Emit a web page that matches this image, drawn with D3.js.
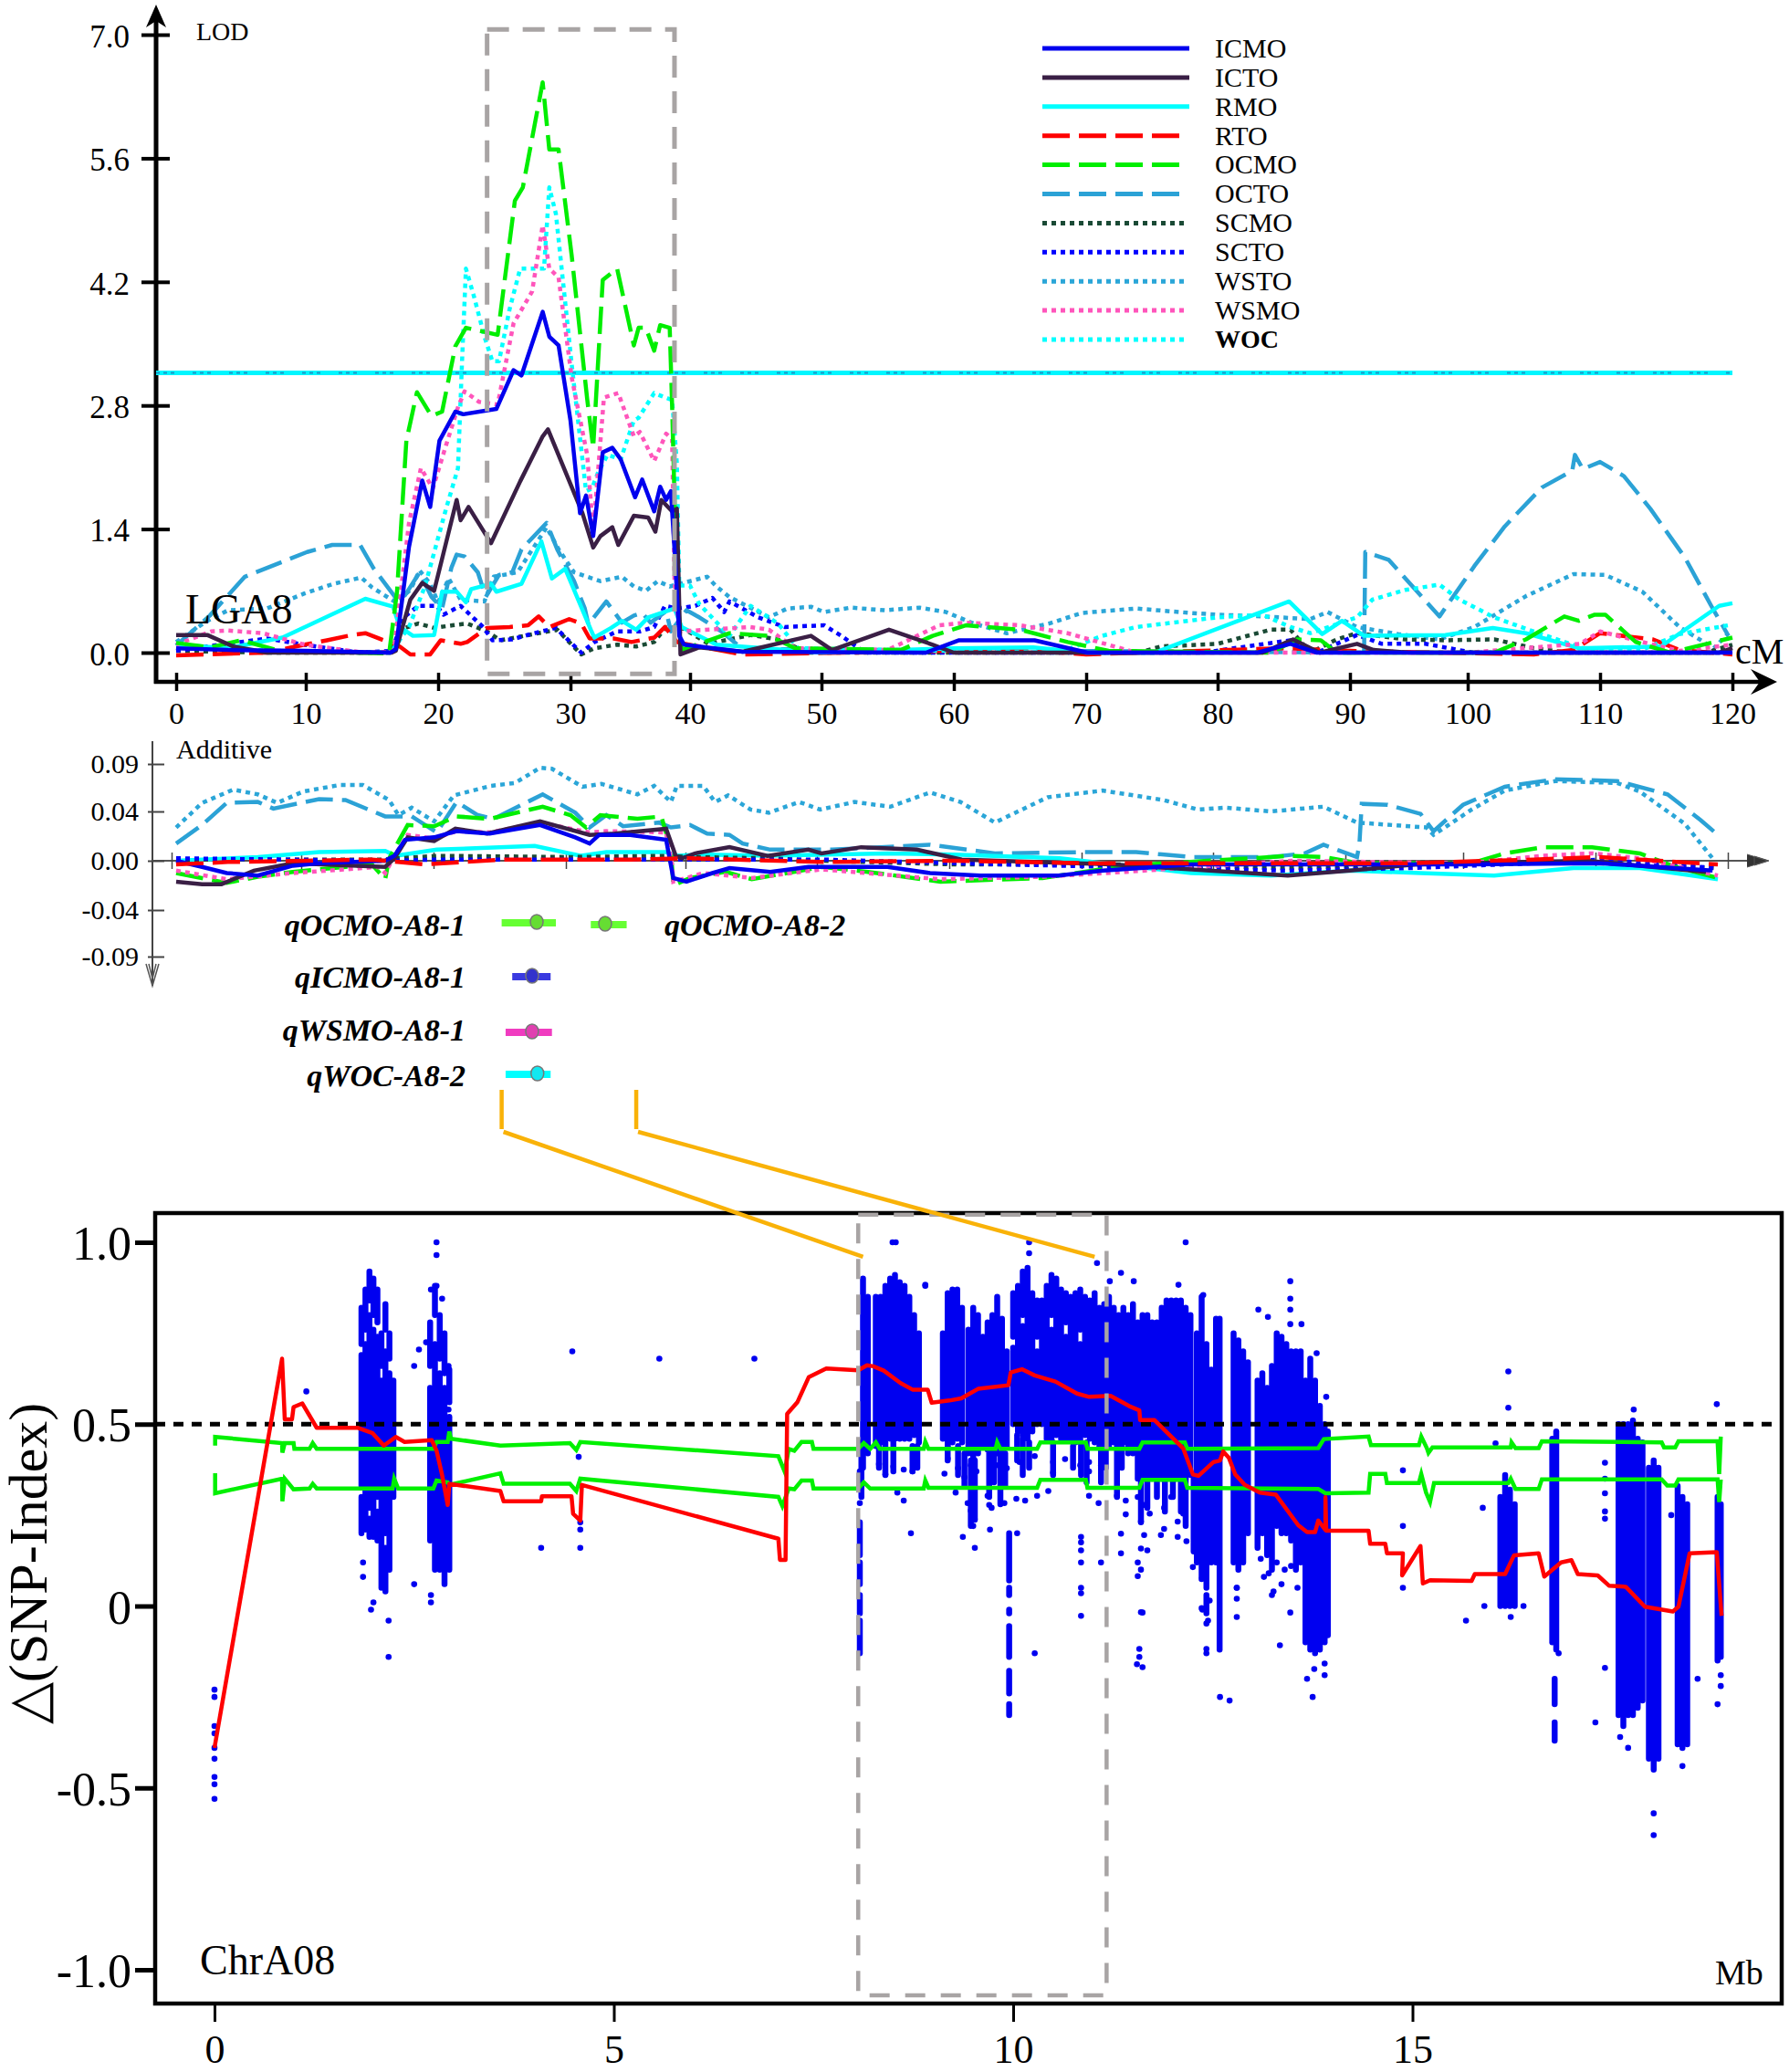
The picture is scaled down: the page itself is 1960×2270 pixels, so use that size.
<!DOCTYPE html>
<html><head><meta charset="utf-8">
<script src="https://d3js.org/d3.v7.min.js"></script>
<style>html,body{margin:0;background:#fff}svg{display:block}text{font-family:"Liberation Serif",serif;fill:#000}</style>
</head><body><svg id="c" width="1960" height="2270"></svg>
<script>
// ---------- LOD panel ----------
const cmTicks=[0,10,20,30,40,50,60,70,80,90,100,110,120];
const lodTicks=[0,1.4,2.8,4.2,5.6,7.0];
const lodThreshold=3.17;
const lodICMO=[[0,.05],[4,.03],[10,.02],[16.4,0],[16.8,.04],[17.8,1.2],[18.8,1.95],[19.4,1.65],[20.1,2.4],[21.3,2.73],[21.9,2.7],[24.4,2.76],[25.7,3.2],[26.3,3.14],[27.9,3.86],[28.4,3.58],[29.1,3.48],[30,2.63],[30.8,1.58],[31.3,1.78],[31.9,1.32],[32.7,2.27],[33.5,2.32],[34.2,2.19],[35.4,1.76],[36,1.96],[37,1.6],[37.5,1.88],[38,1.73],[38.4,1.83],[38.7,1.17],[39.1,.19],[39.5,.09],[44,.01],[57.9,0],[60.4,.14],[66.1,.14],[70.1,0],[83,0],[85.5,.1],[87.5,0],[120,0]];
const lodICTO=[[0,.2],[2.4,.2],[4.4,.07],[7,0],[16.5,0],[16.8,.02],[17.9,.6],[18.8,.79],[19.7,.7],[21.4,1.73],[21.7,1.5],[22.3,1.65],[24,1.24],[26.2,1.94],[27.9,2.45],[28.3,2.53],[31,1.58],[31.9,1.19],[32.5,1.32],[33.5,1.42],[34,1.22],[35.3,1.55],[36.5,1.53],[37.1,1.37],[37.6,1.73],[38.5,1.6],[38.9,1.63],[39.2,-.02],[40.7,.06],[44,.01],[49.2,.19],[50.8,.03],[55.1,.26],[58.4,.09],[60,0],[83.4,0],[85.7,.15],[87.7,0],[90.6,.1],[92,.03],[95,0],[119,0],[120,.05]];
const lodRMO=[[0,.09],[4,.05],[8.2,.17],[14.5,.61],[16.6,.52],[17.1,.29],[18.1,.19],[19.7,.2],[20.3,.69],[21.4,.69],[22.1,.57],[22.5,.72],[24,.78],[24.4,.69],[26.3,.78],[27.8,1.26],[28.6,.84],[29.6,.95],[31.7,.26],[32,.17],[33.4,.28],[34.3,.36],[35.5,.26],[36.5,.4],[38.7,.5],[39.3,.29],[42,.09],[50,0],[60,.05],[66,.06],[70,0],[75.2,0],[85.4,.58],[87.9,.21],[89.4,.36],[91.2,.19],[98.1,.2],[101.9,.28],[104.4,.22],[108.4,.05],[114.6,.07],[119,.53],[120,.56]];
const lodRTO=[[0,-.03],[7,0],[9.9,.09],[11.6,.14],[13.5,.2],[14.5,.22],[15.9,.14],[17.1,.07],[17.9,-.02],[19.4,-.02],[20.2,.14],[21.7,.1],[22.2,.12],[23.7,.28],[25.4,.29],[26.8,.31],[27.6,.41],[28.4,.29],[29.9,.38],[30.9,.33],[31.6,.16],[33.6,.16],[35.1,.12],[37,.17],[37.9,.29],[38.9,.12],[39.5,.1],[44,-.02],[60,.02],[66,.02],[70,-.02],[85,.05],[90,.02],[105,-.02],[108,.03],[110,.22],[114,.15],[116,.03],[120,-.02]];
const lodOCMO=[[0,.11],[2.6,.06],[5,.14],[8,.02],[16.3,-.01],[16.9,.7],[17.6,2.4],[18.4,2.95],[19.5,2.68],[20.3,2.73],[21.3,3.47],[22.1,3.68],[24.5,3.6],[25.8,5.12],[26.4,5.27],[27.9,6.46],[28.4,5.7],[29.1,5.7],[30.1,4.5],[31.4,2.87],[31.9,2.32],[32.7,4.22],[33.9,4.35],[35.3,3.48],[35.7,3.68],[36.3,3.68],[37,3.42],[37.5,3.71],[38.3,3.68],[38.5,2.8],[38.9,.7],[39.3,.03],[43,.22],[46,.19],[48,.05],[56,.03],[58.4,.19],[60.9,.31],[65,.26],[68.6,.12],[71.7,.02],[84,0],[86,.15],[87.8,.14],[89,0],[102,0],[104.4,.15],[107.3,.41],[108.4,.36],[109.6,.43],[110.4,.43],[112.7,.12],[115.3,0],[120,.17]];
const lodOCTO=[[0,.08],[2.6,.42],[5.3,.86],[10.1,1.14],[12,1.22],[14.1,1.22],[15.1,.96],[16.9,.6],[17.5,.65],[18.6,.91],[19.5,.63],[20.3,.5],[21,.96],[21.4,1.11],[22,1.09],[23,.91],[23.6,.63],[24.6,.88],[25.6,.91],[26.3,1.17],[28.2,1.47],[29,1.17],[30.3,.81],[31.2,.5],[31.5,.32],[33,.58],[34.3,.34],[35.3,.42],[36,.45],[36.7,.34],[38,.47],[38.4,.24],[39.7,.48],[40.7,.4],[42.4,.24],[44,.04],[91.2,0],[91.3,1.14],[93.3,1.05],[97.6,.41],[100.5,.98],[102.8,1.43],[105.6,1.87],[107.9,2.06],[108.1,2.24],[108.7,2.08],[110,2.16],[111.8,2],[113.8,1.63],[116.4,1.08],[118.4,.53],[119.7,.19]];
const lodSCMO=[[0,.02],[7,0],[16.5,0],[17.1,.26],[18.5,.33],[19.7,.28],[21.1,.31],[22.2,.33],[23.7,.24],[24.7,.14],[25.8,.17],[27.2,.21],[29,.26],[29.9,.12],[30.9,-.02],[32,.05],[33.9,.09],[35.5,.07],[37,.12],[38,.29],[39.5,.27],[41.4,.1],[44.6,.2],[46.7,.15],[49,0],[74,0],[75.7,.07],[80,.1],[84,.26],[85.5,.26],[87,0],[89,.15],[90.6,.22],[94.7,.15],[98,.14],[102,.15],[105,.05],[107.6,0],[118,0],[120,.09]];
const lodSCTO=[[0,.02],[2.4,.07],[7,.16],[9.9,.09],[14,0],[16.5,.02],[17.4,.4],[18.5,.53],[19.9,.53],[20.4,.43],[21.7,.53],[23.4,.29],[24.1,.14],[25.6,.15],[27,.21],[28.9,.28],[30.9,0],[32,.12],[33.9,.24],[35.8,.24],[37,.29],[37.9,.53],[38.9,.5],[40.4,.53],[41.7,.62],[42.6,.46],[43,.58],[45.2,.4],[47.2,.29],[50.2,.31],[51.5,.19],[53.3,0],[78.9,0],[85.5,.14],[87.5,0],[90.6,.2],[92.7,.1],[96.4,.1],[100.4,0],[120,0]];
const lodWSTO=[[0,.12],[2.4,.36],[4,.48],[7,.5],[9.9,.67],[12.1,.78],[14.2,.85],[15,.74],[16.8,.57],[17.9,.71],[18.6,.93],[19.4,.78],[20,.57],[20.8,.84],[21.7,.6],[23.5,.58],[24.2,.86],[26,.91],[28.2,1.42],[29.1,1.17],[30.3,.91],[32.5,.81],[34.3,.86],[35.3,.75],[36.3,.7],[37.3,.81],[38.3,.75],[41.3,.86],[42,.75],[43,.63],[46,.4],[47.4,.5],[49.2,.52],[50.2,.46],[52.2,.51],[54.8,.48],[57.4,.51],[59.4,.46],[61.5,.33],[64,.22],[67.2,.33],[69.7,.45],[73.8,.5],[77.9,.45],[80,.43],[83.4,.41],[87,.38],[88.3,.46],[90.6,.29],[94.1,.21],[97.6,.15],[100.5,.29],[104.4,.64],[108,.89],[110.4,.88],[113.2,.69],[116,.29],[118.6,.05],[119.7,.22]];
const lodWSMO=[[0,.09],[2.7,.24],[4,.25],[6.7,.22],[9.9,.09],[14.4,0],[16.5,.01],[16.7,.09],[17.8,1.47],[18.7,2.09],[19.6,1.86],[20.6,2.35],[21.5,2.78],[22,2.96],[23.1,2.84],[24.5,2.81],[25.7,3.73],[27.1,4.09],[27.9,4.84],[28.4,4.35],[29.1,4.25],[30.1,3.12],[31.4,2.24],[31.9,1.37],[32.8,2.89],[34,2.94],[35.3,2.45],[35.8,2.5],[37,2.17],[38,2.48],[38.5,2.42],[38.7,.81],[39.1,.24],[44.6,.29],[46,.26],[48,.05],[55,.03],[58.9,.31],[60.9,.34],[65,.31],[68.6,.22],[73.8,0],[100,0],[108.5,.1],[110,.24],[113.2,.12],[116,.02],[120,.09]];
const lodWOC=[[0,.06],[8,.02],[16.5,0],[16.7,.06],[17.8,.29],[19,.75],[20.6,1.63],[21.5,2.09],[21.8,3.27],[22.1,4.35],[22.7,4.04],[23.5,3.58],[24.1,3.3],[24.6,3.3],[25.4,3.89],[26.2,4.35],[28,4.35],[28.4,5.27],[28.9,4.97],[30.1,3.27],[31.3,1.83],[31.8,1.86],[32.3,2.04],[33.1,2.24],[34.2,2.19],[35.3,2.63],[35.7,2.66],[37,2.94],[38.5,2.86],[38.9,2.14],[39.1,.76],[40,.76],[40.7,.55],[43,.19],[44.6,.53],[46.7,.33],[48.2,.05],[68,0],[71.2,.19],[73.8,.29],[80,.4],[83.4,.43],[85.5,.29],[87,.22],[90.6,.4],[91.9,.6],[94.7,.71],[97.6,.77],[99.3,.6],[102,.4],[104.6,.26],[108.7,.05],[113,.02],[116,.21],[119.7,.31]];

// ---------- Additive panel ----------
const addTicks=[-.09,-.04,0,.04,.09];
const addICMO=[[0,0],[2,-.005],[3.9,-.01],[6.3,-.012],[9,-.004],[11,-.002],[16,0],[16.7,.004],[17.5,.017],[19.7,.019],[21.4,.024],[23.9,.022],[27.7,.029],[30.4,.019],[31.6,.014],[32.4,.021],[35,.021],[38,.017],[38.6,-.014],[39.7,-.017],[41.7,-.01],[43,-.006],[46.1,-.009],[49,-.005],[55,-.005],[58.2,-.01],[62,-.012],[67.9,-.012],[71.3,-.008],[78,-.003],[100,-.003],[110,-.002],[118.5,-.008]];
const addICTO=[[0,-.017],[2,-.019],[3.5,-.019],[6,-.008],[9,-.002],[16,-.005],[16.7,.002],[17.7,.019],[19.7,.016],[21.3,.026],[23.7,.022],[27.7,.032],[31.6,.021],[33.7,.022],[38,.026],[38.8,.004],[39.3,.002],[40.4,.006],[43,.011],[45.9,.004],[49,.009],[50,.006],[53,.011],[57.2,.009],[60.6,.001],[72,-.003],[85.3,-.012],[90,-.008],[95.6,-.003],[104.5,-.001],[109,0],[118,-.009]];
const addRMO=[[0,0],[6.3,.003],[11,.007],[16,.008],[16.8,.004],[19.9,.009],[27.3,.012],[30.9,.004],[33,.007],[38,.007],[39,.004],[41,.005],[46,.004],[55,.006],[60,.005],[68,.002],[78,-.01],[84,-.012],[90,-.008],[96,-.01],[102,-.012],[108,-.006],[113,-.006],[118.9,-.015]];
const addRTO=[[0,-.003],[4,-.001],[10,0],[15,.001],[19,-.003],[25,.001],[35,.001],[40,.002],[50,-.001],[60,0],[70,-.002],[85,-.002],[95,-.002],[105,.001],[110,.003],[118.9,-.003]];
const addOCMO=[[0,-.01],[3.9,-.018],[6.3,-.013],[9,-.009],[13,-.005],[15,-.003],[16,-.015],[16.3,.002],[17.7,.029],[19.7,.028],[21.4,.036],[23.9,.034],[27.9,.045],[30,.037],[31.3,.027],[32.5,.037],[35.6,.034],[37.6,.036],[38.4,.009],[38.6,-.02],[40,-.014],[42.7,-.009],[44.7,-.015],[50,-.005],[53.5,-.009],[59,-.017],[66.7,-.014],[73,-.004],[85.6,.004],[88,.003],[90.8,-.002],[100.3,-.002],[102.8,.006],[105.7,.011],[109.4,.011],[113,.006],[115.7,-.005],[118.9,-.014]];
const addOCTO=[[0,.014],[2,.029],[3.9,.049],[6.3,.05],[7.5,.043],[11,.053],[13,.052],[16,.036],[18,.036],[19.9,.023],[21.4,.05],[23,.037],[24.2,.034],[27.9,.058],[30.4,.039],[31.6,.027],[33,.037],[34.4,.028],[37.4,.031],[38.4,.027],[40,.029],[41.3,.022],[43,.021],[44,.014],[46.1,.009],[50.8,.009],[58.2,.013],[63.1,.006],[69.6,.007],[73.8,.007],[78,.003],[84,.003],[86.6,.006],[88,.013],[90.6,.003],[90.8,.013],[91,.048],[93.2,.047],[96,.038],[97.1,.024],[99.6,.047],[102.8,.066],[106.6,.074],[111.3,.072],[115.1,.058],[117.6,.033],[118.9,.021]];
const addSCMO=[[0,.001],[16,.001],[17,.002],[20,.004],[30,.003],[38,.004],[40,.003],[46,.002],[50,0],[60,-.003],[75,-.003],[85,-.006],[100,-.002],[110,-.002],[118.9,-.006]];
const addSCTO=[[0,.002],[16,0],[20,.001],[30,.001],[38,.001],[40,.001],[50,.001],[60,-.002],[72,-.005],[85,-.008],[95,-.006],[105,-.002],[110,.001],[118.9,-.006]];
const addWSTO=[[0,.027],[2,.049],[4.4,.063],[6.3,.058],[7.8,.049],[9.8,.061],[12.6,.068],[14.3,.068],[16.3,.052],[17,.037],[18,.044],[19.7,.032],[21.2,.057],[24,.067],[25.8,.07],[27.7,.086],[28.6,.085],[31,.066],[32.6,.069],[35.6,.058],[37,.067],[38.4,.05],[38.9,.067],[41,.067],[41.9,.05],[42.9,.057],[44.6,.042],[46,.039],[48.3,.05],[49.9,.042],[52.5,.05],[55.2,.045],[58.2,.06],[60.5,.05],[63.1,.031],[67.1,.055],[71.25,.062],[75.9,.052],[78.5,.042],[80.6,.044],[84,.04],[88,.045],[90.6,.031],[96.5,.027],[97.1,.021],[100.3,.042],[102.8,.062],[106.6,.072],[111.3,.07],[113,.061],[116.4,.03],[118.5,.002]];
const addWSMO=[[0,-.008],[3.9,-.015],[9,-.01],[13,-.007],[15.5,-.005],[16,-.01],[16.7,.004],[17.7,.021],[19.7,.018],[21.4,.024],[23.9,.023],[27.7,.031],[31.6,.023],[33,.024],[38,.023],[38.5,-.003],[38.6,-.017],[41,-.01],[44.7,-.014],[50,-.007],[59,-.015],[66.7,-.013],[73,-.009],[85.6,0],[100,-.002],[105.7,.004],[109.4,.006],[113,.002],[118.9,-.012]];

// ---------- QTL intervals in cM ----------
const qtlNames=["qOCMO-A8-1","qOCMO-A8-2","qICMO-A8-1","qWSMO-A8-1","qWOC-A8-2"];
const qtlFrom=[24.8,31.7,25.6,25.1,25.1];
const qtlTo=[28.9,34.7,28.5,28.6,28.5];
const qtlPeak=[27.45,32.9,27.1,27.1,27.5];
const qtlColors=["#66ff33","#66ff33","#3a3ae0","#f03cc0","#00ffff"];

// ---------- SNP-index panel ----------
const mbTicks=[0,5,10,15];
const snpTicks=[1,.5,0,-.5,-1];
const snpRed=[[0,-.39],[.846,.68],[.88,.513],[.97,.513],[.99,.547],[1.1,.557],[1.28,.49],[1.79,.49],[1.98,.475],[2.12,.441],[2.27,.465],[2.38,.451],[2.72,.456],[2.78,.427],[2.85,.36],[2.92,.278],[2.94,.336],[3.58,.316],[3.62,.288],[4.09,.288],[4.1,.302],[4.47,.302],[4.49,.254],[4.58,.235],[4.6,.333],[7.06,.185],[7.08,.127],[7.15,.127],[7.17,.528],[7.3,.561],[7.44,.629],[7.66,.653],[8.06,.648],[8.17,.662],[8.25,.659],[8.38,.647],[8.59,.613],[8.74,.595],[8.93,.595],[8.98,.559],[9.2,.565],[9.35,.571],[9.56,.597],[9.94,.607],[9.97,.642],[10.11,.651],[10.27,.634],[10.53,.617],[10.8,.584],[10.95,.575],[11.22,.578],[11.45,.55],[11.58,.538],[11.59,.511],[11.77,.511],[11.9,.483],[12.13,.433],[12.25,.362],[12.32,.358],[12.51,.396],[12.59,.4],[12.63,.425],[12.7,.408],[12.78,.362],[12.9,.333],[13.09,.312],[13.29,.306],[13.57,.222],[13.68,.203],[13.78,.203],[13.82,.235],[13.91,.209],[13.91,.299],[13.92,.207],[14.45,.207],[14.47,.171],[14.66,.171],[14.68,.145],[14.88,.145],[14.87,.084],[15.1,.165],[15.13,.062],[15.22,.071],[15.74,.069],[15.78,.088],[16.16,.088],[16.27,.139],[16.58,.145],[16.65,.081],[16.86,.12],[16.99,.126],[17.07,.088],[17.32,.084],[17.46,.056],[17.67,.053],[17.91,-.002],[18.26,-.015],[18.33,-.002],[18.47,.145],[18.81,.148],[18.87,-.027]];
const snpUpper=[[.008,.441],[.008,.465],[.846,.448],[.85,.422],[.88,.448],[.99,.448],[1,.432],[1.19,.432],[1.23,.448],[1.28,.432],[2.74,.432],[2.78,.451],[2.92,.451],[2.94,.48],[2.96,.46],[3.58,.441],[4.45,.448],[4.53,.429],[4.58,.451],[7.06,.412],[7.14,.369],[7.19,.432],[7.26,.427],[7.35,.451],[7.48,.451],[7.5,.432],[8.06,.432],[8.13,.448],[8.21,.432],[8.28,.45],[8.33,.432],[8.88,.432],[8.9,.452],[8.94,.432],[9.78,.432],[9.8,.45],[9.84,.432],[10.3,.432],[10.34,.45],[10.91,.45],[10.93,.432],[11.58,.432],[11.62,.45],[12.15,.45],[12.18,.432],[13.82,.434],[13.89,.459],[14.45,.466],[14.48,.442],[14.87,.442],[15.08,.442],[15.11,.466],[15.18,.434],[15.2,.421],[15.25,.436],[16.23,.436],[16.24,.45],[16.29,.434],[16.58,.434],[16.62,.453],[18.12,.45],[18.15,.436],[18.29,.436],[18.33,.453],[18.82,.453],[18.84,.363],[18.86,.466]];
const snpLower=[[.008,.365],[.008,.31],[.846,.35],[.85,.288],[.88,.35],[.99,.321],[1.19,.323],[1.23,.336],[1.28,.323],[2.23,.323],[2.25,.35],[2.3,.323],[2.74,.323],[2.78,.345],[2.92,.34],[2.94,.333],[3.58,.365],[3.62,.336],[4.45,.336],[4.53,.316],[4.58,.35],[7.06,.3],[7.11,.275],[7.19,.323],[7.26,.321],[7.35,.345],[7.48,.345],[7.5,.323],[8.06,.323],[8.13,.34],[8.21,.323],[8.88,.323],[8.9,.345],[8.94,.325],[10.3,.325],[10.34,.347],[10.91,.347],[10.93,.325],[11.58,.325],[11.62,.347],[12.15,.347],[12.18,.325],[13.82,.322],[13.91,.31],[14.45,.312],[14.47,.363],[14.66,.363],[14.68,.338],[15.08,.338],[15.11,.363],[15.17,.312],[15.22,.286],[15.27,.338],[16.2,.338],[16.23,.35],[16.29,.322],[16.58,.322],[16.62,.348],[18.12,.348],[18.19,.331],[18.29,.331],[18.33,.348],[18.82,.348],[18.84,.286],[18.86,.348]];
// dense SNP columns read as [Mb, highest delta, lowest delta]
const snpColumns=[[1.84,.82,.72],[1.84,.69,.33],[1.84,.3,.2],[1.89,.87,.76],[1.89,.72,.21],[1.94,.92,.84],[1.94,.8,.27],[1.94,.24,.19],[1.99,.9,.8],[1.99,.76,.19],[2.04,.87,.78],[2.04,.74,.3],[2.04,.26,.18],[2.09,.75,.66],[2.09,.62,.05],[2.14,.83,.76],[2.14,.7,.2],[2.14,.16,.04],[2.19,.75,.68],[2.19,.64,.1],[2.24,.62,.3],
[2.7,.78,.66],[2.7,.6,.18],[2.76,.88,.8],[2.76,.72,.1],[2.82,.8,.68],[2.82,.64,.1],[2.88,.75,.64],[2.88,.6,.06],[2.94,.65,.56],[2.94,.52,.1],
[8.12,.9,.38],[8.18,.85,.42],[8.28,.85,.44],[8.34,.85,.45],[8.4,.88,.46],[8.46,.9,.46],[8.52,.91,.46],[8.58,.89,.46],[8.64,.88,.46],[8.7,.85,.46],[8.76,.8,.47],[8.82,.75,.45],
[9.12,.75,.46],[9.18,.86,.44],[9.24,.87,.45],[9.3,.87,.46],[9.36,.82,.45],[9.44,.76,.42],[9.5,.82,.4],[9.56,.8,.42],[9.62,.74,.44],[9.68,.78,.43],[9.74,.8,.42],[9.8,.85,.42],[9.86,.79,.43],[9.92,.7,.44],
[10,.86,.74],[10,.71,.5],[10.06,.88,.48],[10.12,.92,.8],[10.12,.77,.47],[10.18,.93,.46],[10.24,.86,.48],[10.3,.84,.74],[10.3,.7,.5],[10.36,.84,.5],[10.42,.88,.46],[10.48,.91,.8],[10.48,.76,.46],[10.54,.9,.47],[10.6,.87,.46],[10.66,.86,.78],[10.66,.74,.46],[10.72,.85,.46],[10.78,.86,.45],[10.84,.87,.76],[10.84,.72,.46],[10.9,.85,.47],[10.96,.84,.46],[11.02,.86,.45],
[11.08,.82,.44],[11.14,.83,.45],[11.2,.85,.44],[11.26,.82,.45],[11.32,.8,.45],[11.38,.82,.45],[11.44,.8,.42],[11.5,.83,.42],[11.56,.78,.35],[11.62,.8,.35],[11.68,.8,.35],[11.74,.78,.35],[11.8,.78,.35],[11.86,.82,.35],[11.92,.84,.35],[11.98,.84,.35],[12.04,.84,.35],[12.1,.84,.35],[12.16,.82,.35],[12.22,.8,.36],
[12.3,.75,.12],[12.36,.85,.08],[12.42,.72,.05],[12.42,.03,-.02],[12.48,.65,.12],[12.54,.79,.12],[12.585,.79,-.12],
[12.76,.75,.12],[12.82,.73,.1],[12.88,.7,.12],[12.94,.67,.2],[13.06,.62,.16],[13.12,.64,.2],[13.18,.6,.14],[13.24,.66,.1],[13.3,.75,.22],[13.36,.74,.2],[13.42,.72,.2],[13.48,.7,.18],[13.54,.7,.1],[13.6,.7,.12],
[13.66,.62,-.1],[13.72,.68,-.12],[13.78,.62,-.13],[13.84,.55,-.12],[13.9,.5,-.1],[13.94,.48,-.08],
[16.1,.3,0],[16.16,.36,0],[16.22,.32,0],[16.28,.28,0],[16.75,.46,-.1],[16.8,.48,-.12],[16.78,-.2,-.27],[16.78,-.32,-.37],
[17.58,.5,-.3],[17.64,.5,-.33],[17.7,.5,-.3],[17.76,.51,-.3],[17.82,.46,-.28],[17.88,.45,-.26],[17.96,.38,-.42],[18.02,.4,-.45],[18.08,.38,-.42],[18.32,.33,-.38],[18.38,.3,-.39],[18.44,.28,-.38],[18.82,.3,-.15],[18.86,.28,-.14],
[9.95,.2,.07],[9.95,.05,.03],[9.95,-.01,-.02],[9.95,-.055,-.14],[9.95,-.178,-.24],[9.95,-.27,-.3],[8.08,.23,.14],[8.08,.12,.06],[8.08,.03,-.02],[8.08,-.04,-.13],[8.1,.45,.3],
// thinner clumps below the solid blocks
[8.32,.45,.38],[8.4,.45,.36],[8.5,.45,.37],[8.74,.44,.37],[8.8,.44,.38],[9.18,.44,.4],[9.31,.44,.36],[9.39,.42,.33],[9.47,.4,.22],[9.52,.4,.24],[9.7,.42,.3],[9.76,.42,.34],[9.84,.42,.28],[9.9,.42,.33],[10.05,.47,.4],[10.12,.46,.36],[10.2,.45,.38],[10.5,.45,.36],[10.75,.44,.38],[10.85,.45,.36],[10.92,.45,.34],[11.1,.44,.34],[11.16,.44,.38],[11.3,.44,.3],[11.36,.44,.38],[11.6,.35,.23],[11.68,.35,.27],[11.8,.35,.3],[11.9,.35,.26],[12,.35,.3],[12.1,.35,.26],[12.16,.35,.22],[12.26,.35,.15]];
const snpDotsMb=[0,0,0,0,0,0,0,0,0,1.15,4.48,5.57,6.76,4.56,4.58,4.58,4.58,4.09,2.5,1.96,1.99,2.18,2.18,2.71,2.71,2.78,2.78,2.78,1.86,1.86,2.56,2.5,2.65,2.93,2.93,2.85,2.71,8.49,8.53,8.9,10.2,10.2,8.72,9.37,9.52,9.71,10.05,11.05,12.16,10.85,10.85,10.85,10.85,10.85,10.85,10.85,11.1,11.6,11.58,11.58,11.55,11.62,10.27,12.59,12.71,13.75,13.68,13.77,13.9,13.9,13.34,13.24,13.47,12.8,12.8,12.8,12.42,12.42,12.42,12.37,11.35,11.51,11.21,8.9,12.07,12.38,12.56,13.07,13.19,13.47,13.47,13.47,13.47,13.61,13.8,13.92,16.2,16.2,16.04,15.88,15.9,15.67,16.39,16.23,14.88,14.88,14.88,16.83,17.41,17.41,17.41,17.41,17.41,17.41,17.29,17.77,17.7,17.6,18.57,18.24,18.02,18.02,18.38,18.81,18.86,18.86,18.82,8.08,8.08,8.32,8.4,8.5,8.63,8.74,8.78,8.55,8.63,9.14,9.28,9.18,9.31,9.47,9.39,9.54,9.43,9.47,9.52,9.5,9.68,9.73,9.7,9.89,10.04,10.15,10.3,10.44,9.81,9.92,10.08,10.27,10.5,10.5,10.65,10.84,10.95,10.95,11.1,10.95,11.07,11.3,11.41,11.56,11.64,11.41,11.71,11.6,11.89,11.98,12.11,12.13,12.06,11.35,11.35,11.64,11.89,11.85,12.06,12.17,11.6,11.68,11.56,11.6,11.56,11.62,12.25,12.36,12.46,12.36,12.44,12.8,12.8,13.1,13.14,13.2,13.26,13.3,13.36,13.4,13.48,13.56];
const snpDotsDelta=[-.23,-.25,-.33,-.35,-.39,-.42,-.47,-.49,-.53,.59,.7,.68,.68,.41,.23,.21,.16,.16,.06,-.01,.01,-.04,-.14,.03,.01,1,.965,.88,.08,.12,.705,.66,.725,.66,.54,.845,.87,1,1,.88,1,.97,.2,.19,.16,.21,.2,.943,1,.19,.175,.153,.12,.05,.035,-.027,.12,-.017,-.118,-.14,-.16,-.168,-.13,-.25,-.26,-.25,-.2,-.173,-.19,-.158,-.108,.03,-.018,.05,.02,-.03,-.048,-.118,-.13,-.01,.916,.893,.893,.883,.883,.855,.785,.815,.795,.893,.845,.815,.775,.775,.695,.575,.645,.545,.447,.27,0,-.04,0,-.03,.373,.22,.05,-.13,.394,.35,.31,.26,.24,-.17,-.32,.54,-.39,-.36,-.2,.25,-.57,-.63,-.44,.555,-.19,-.22,-.27,.283,.37,.39,.362,.383,.375,.37,.39,.312,.29,.364,.312,.405,.379,.387,.354,.37,.283,.262,.237,.22,.303,.27,.278,.283,.295,.29,.303,.316,.387,.379,.396,.412,.396,.367,.404,.387,.396,.37,.387,.303,.283,.303,.29,.3,.278,.252,.254,.232,.27,.3,.278,.254,.232,.199,.145,.195,.212,.195,.19,.178,.158,.153,.12,.1,.082,-.018,.107,.074,.015,-.006,-.04,.128,.05,.13,.08,.09,.04,.12,.06,.1,.11,.05];
// highlighted regions and connectors, in axis units
const boxCM=[23.7,38.7], boxLOD=[-.24,7.06];
const boxMb=[8.06,11.17], boxDelta=[-1.07,1.076];
const linkCM=[24.8,35.5], linkMb=[8.12,11.02], linkDelta=.96;

const legendNames=["ICMO","ICTO","RMO","RTO","OCMO","OCTO","SCMO","SCTO","WSTO","WSMO","WOC"];
const lodSeries=[lodWSTO,lodSCMO,lodSCTO,lodOCTO,lodRTO,lodRMO,lodWOC,lodWSMO,lodOCMO,lodICTO,lodICMO];
const lodOrder=["WSTO","SCMO","SCTO","OCTO","RTO","RMO","WOC","WSMO","OCMO","ICTO","ICMO"];
const addSeries=[addWSTO,addOCTO,addRMO,addSCMO,addSCTO,addOCMO,addWSMO,addICTO,addICMO,addRTO];
const addOrder=["WSTO","OCTO","RMO","SCMO","SCTO","OCMO","WSMO","ICTO","ICMO","RTO"];
const color={ICMO:"#0000ee",ICTO:"#3a1f45",RMO:"#00ffff",RTO:"#ff0000",OCMO:"#00ee00",OCTO:"#2ba2d6",SCMO:"#1a4a35",SCTO:"#0000ff",WSTO:"#2ba6d8",WSMO:"#ff55bb",WOC:"#0ff"};
const dash={ICMO:null,ICTO:null,RMO:null,RTO:"30 10",OCMO:"30 10",OCTO:"30 10",SCMO:"5 5",SCTO:"5 5",WSTO:"5 5",WSMO:"5 5",WOC:"5 5"};

const svg=d3.select("#c");
const xCM=d3.scaleLinear().domain(cmTicks).range([193,335,480,625,756,900,1045,1190,1334,1479,1608,1753,1898]);
const yLOD=d3.scaleLinear().domain([0,7]).range([715,38]);
const yAdd=d3.scaleLinear().domain(addTicks).range([1048,997,943,889,837]);
const xMb=d3.scaleLinear().domain([0,15]).range([235,1547.5]);
const yD=d3.scaleLinear().domain([-1,1]).range([2158,1361]);
const serif='"Liberation Serif",serif';
const hy=s=>s.replace("\u2212","-");

function styleAxis(g,w,fs,col){g.select(".domain").remove();g.selectAll("line").attr("stroke",col||"#000").attr("stroke-width",w);
 g.selectAll("text").attr("font-family",serif).attr("font-size",fs).attr("fill","#000");}
function lineOf(x,y){return d3.line().x(d=>x(d[0])).y(d=>y(d[1]));}

// LOD axes
const g=svg.append("g");
g.append("line").attr("x1",171).attr("x2",171).attr("y1",15).attr("y2",749).attr("stroke","#000").attr("stroke-width",5);
g.append("line").attr("x1",169).attr("x2",1935).attr("y1",747).attr("y2",747).attr("stroke","#000").attr("stroke-width",4.5);
g.append("path").attr("d","M171 5L160 30L171 23L182 30Z").attr("fill","#000");
g.append("path").attr("d","M1947 747L1918 733L1928 747L1918 761Z").attr("fill","#000");
const ay=g.append("g").attr("transform","translate(171,0)").call(d3.axisLeft(yLOD).tickValues(lodTicks).tickFormat(d3.format(".1f")).tickSize(0));
styleAxis(ay,4,35);
ay.selectAll("text").attr("x",-29).attr("y",2);
ay.selectAll(".tick").append("line").attr("x1",-16).attr("x2",15).attr("stroke","#000").attr("stroke-width",4);
const ax=g.append("g").attr("transform","translate(0,747)").call(d3.axisBottom(xCM).tickValues(cmTicks).tickFormat(d3.format("d")).tickSize(0));
styleAxis(ax,4,34);
ax.selectAll("text").attr("y",22);
ax.selectAll(".tick").append("line").attr("y1",-10).attr("y2",10).attr("stroke","#000").attr("stroke-width",3.5);

// threshold
g.append("line").attr("x1",xCM(0)-22).attr("x2",xCM(120)).attr("y1",yLOD(lodThreshold)).attr("y2",yLOD(lodThreshold)).attr("stroke","#00f6ff").attr("stroke-width",5);
g.append("line").attr("x1",xCM(0)-22).attr("x2",xCM(120)).attr("y1",yLOD(lodThreshold)).attr("y2",yLOD(lodThreshold)).attr("stroke","#1a96c8").attr("stroke-width",2).attr("stroke-dasharray","4 4 4 4 4 20");

// LOD curves
const lodLine=lineOf(xCM,yLOD);
lodSeries.forEach((s,i)=>{const n=lodOrder[i];
 g.append("path").attr("d",lodLine(s)).attr("fill","none").attr("stroke",color[n]).attr("stroke-width",4.5).attr("stroke-linejoin","round").attr("stroke-dasharray",dash[n]);});

// LOD box
g.append("rect").attr("x",xCM(boxCM[0])).attr("y",yLOD(boxLOD[1])).attr("width",xCM(boxCM[1])-xCM(boxCM[0])).attr("height",yLOD(boxLOD[0])-yLOD(boxLOD[1]))
 .attr("fill","none").attr("stroke","#a8a4a4").attr("stroke-width",5).attr("stroke-dasharray","24 15");

// LOD texts
const T=(x,y,s,fs,o={})=>svg.append("text").attr("x",x).attr("y",y).attr("font-size",fs).attr("font-weight",o.w||"normal").attr("font-style",o.i||"normal").attr("text-anchor",o.a||"start").attr("dominant-baseline","middle").text(s);
T(215,38,"LOD",28);
T(203,672,"LGA8",46);
T(1901,718,"cM",40);
// legend
legendNames.forEach((n,i)=>{const y=53+i*31.9;
 svg.append("line").attr("x1",1142).attr("x2",dash[n]==null?1303:dash[n]=="30 10"?1293:1299).attr("y1",y).attr("y2",y).attr("stroke",color[n]).attr("stroke-width",5).attr("stroke-dasharray",dash[n]);
 T(1331,y+3,n,n=="WOC"?28:30,{w:n=="WOC"?"bold":"normal"});});

// Additive axes
const ga=svg.append("g");
ga.append("line").attr("x1",167).attr("x2",167).attr("y1",812).attr("y2",1080).attr("stroke","#444").attr("stroke-width",2);
ga.append("path").attr("d","M160 1056L167 1080L174 1056M163 1056L167 1072L171 1056").attr("fill","none").attr("stroke","#555").attr("stroke-width",1.5);
ga.append("line").attr("x1",167).attr("x2",1925).attr("y1",yAdd(0)).attr("y2",yAdd(0)).attr("stroke","#555").attr("stroke-width",2);
ga.append("path").attr("d","M1914 936L1937 943L1914 950M1922 938L1938 943L1922 948Z").attr("fill","#333").attr("stroke","#555").attr("stroke-width",1);
const aya=ga.append("g").attr("transform","translate(167,0)").call(d3.axisLeft(yAdd).tickValues(addTicks).tickFormat(d=>hy(d3.format(".2f")(d))).tickSize(0));
styleAxis(aya,2,30);
aya.selectAll("text").attr("x",-15).attr("y",0);
aya.selectAll(".tick").append("line").attr("x1",-5).attr("x2",13).attr("stroke","#444").attr("stroke-width",2);
const axa=ga.append("g").attr("transform","translate(-5,"+yAdd(0)+")").call(d3.axisBottom(xCM).tickValues(cmTicks).tickFormat("").tickSize(0));
axa.select(".domain").remove();
axa.selectAll(".tick").append("line").attr("y1",-9).attr("y2",9).attr("stroke","#444").attr("stroke-width",1.5);
T(193,824,"Additive",30);
const addLine=lineOf(xCM,yAdd);
addSeries.forEach((s,i)=>{const n=addOrder[i];
 ga.append("path").attr("d",addLine(s)).attr("fill","none").attr("stroke",color[n]).attr("stroke-width",4.5).attr("stroke-dasharray",dash[n]);});

// QTL rows
const qtlLabelY=[1017,1017,1074,1132,1182];
const qtlBarY=[1011,1013,1070,1131,1177];
qtlNames.forEach((n,i)=>{
 if(i==1) T(728,qtlLabelY[i],n,34,{w:"bold",i:"italic"}); else T(510,qtlLabelY[i],n,34,{w:"bold",i:"italic",a:"end"});
 svg.append("line").attr("x1",xCM(qtlFrom[i])).attr("x2",xCM(qtlTo[i])).attr("y1",qtlBarY[i]).attr("y2",qtlBarY[i]).attr("stroke",qtlColors[i]).attr("stroke-width",8);
 svg.append("ellipse").attr("cx",xCM(qtlPeak[i])).attr("cy",qtlBarY[i]-1).attr("rx",7).attr("ry",8).attr("fill",i==2?"#3333cc":qtlColors[i]=="#66ff33"?"#66dd33":i==3?"#e040b0":"#11e8f0").attr("stroke","#777").attr("stroke-width",1.5);
});

// SNP panel
const gs=svg.append("g");
const blue="#0000f0";
gs.selectAll(".col").data(snpColumns).join("line").attr("class","col").attr("x1",d=>xMb(d[0])).attr("x2",d=>xMb(d[0])).attr("y1",d=>yD(d[1])).attr("y2",d=>yD(d[2])).attr("stroke",blue).attr("stroke-width",6.5).attr("stroke-linecap","round");
gs.selectAll(".dot").data(snpDotsMb).join("circle").attr("class","dot").attr("cx",d=>xMb(d)).attr("cy",(d,i)=>yD(snpDotsDelta[i])).attr("r",3.3).attr("fill",blue);
gs.append("line").attr("x1",170).attr("x2",1952).attr("y1",yD(.5)).attr("y2",yD(.5)).attr("stroke","#000").attr("stroke-width",5).attr("stroke-dasharray","11 9");
const snpLine=lineOf(xMb,yD);
[snpUpper,snpLower].forEach(s=>gs.append("path").attr("d",snpLine(s)).attr("fill","none").attr("stroke","#00f000").attr("stroke-width",4.5));
gs.append("path").attr("d",snpLine(snpRed)).attr("fill","none").attr("stroke","#f00").attr("stroke-width",4.5).attr("stroke-linejoin","round");
gs.append("rect").attr("x",170).attr("y",1329).attr("width",1782).attr("height",866).attr("fill","none").attr("stroke","#000").attr("stroke-width",4.5);
const ayb=gs.append("g").attr("transform","translate(170,0)").call(d3.axisLeft(yD).tickValues(snpTicks).tickFormat(d=>d==0?"0":hy(d3.format(".1f")(d))).tickSize(0));
styleAxis(ayb,4,52);
ayb.selectAll("text").attr("x",-26).attr("y",2);
ayb.selectAll(".tick").append("line").attr("x1",-22).attr("x2",0).attr("stroke","#000").attr("stroke-width",5);
const axb=gs.append("g").attr("transform","translate(0,2195)").call(d3.axisBottom(xMb).tickValues(mbTicks).tickFormat(d3.format("d")).tickSize(0));
styleAxis(axb,3,44);
axb.selectAll("text").attr("y",34);
axb.selectAll(".tick").append("line").attr("y1",0).attr("y2",20).attr("stroke","#000").attr("stroke-width",3);
T(219,2152,"ChrA08",46);
T(1879,2165,"Mb",38);
svg.append("text").attr("transform","translate(37,1713) rotate(-90)").attr("text-anchor","middle").attr("dominant-baseline","middle").attr("font-size",60).text("△(SNP-Index)");
gs.append("rect").attr("x",xMb(boxMb[0])).attr("y",yD(boxDelta[1])).attr("width",xMb(boxMb[1])-xMb(boxMb[0])).attr("height",yD(boxDelta[0])-yD(boxDelta[1]))
 .attr("fill","none").attr("stroke","#a8a4a4").attr("stroke-width",4.5).attr("stroke-dasharray","22 17");

// connectors
const or="#f9b208";
[0,1].forEach(i=>{const x0=xCM(linkCM[i]);
 svg.append("path").attr("d",`M${x0} 1194V1237`).attr("stroke",or).attr("stroke-width",4.5).attr("fill","none");
 svg.append("path").attr("d",`M${x0+2} 1240L${xMb(linkMb[i])} ${yD(linkDelta)}`).attr("stroke",or).attr("stroke-width",4.5).attr("fill","none");});
</script></body></html>
